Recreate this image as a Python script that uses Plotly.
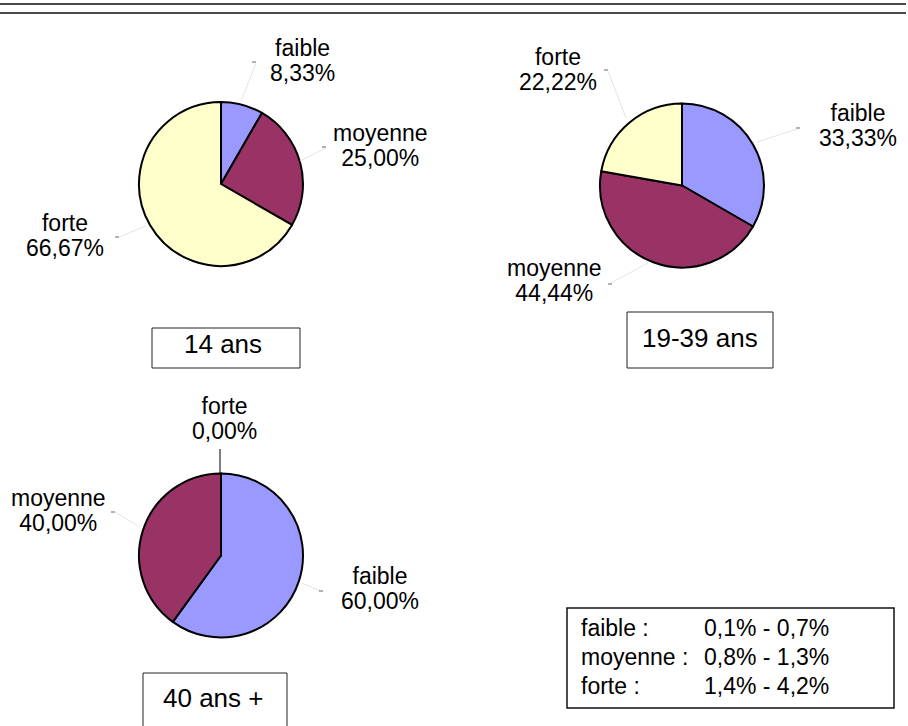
import plotly.graph_objects as go

W, H = 908, 726

# ---------------- data ----------------
categories = ["faible", "moyenne", "forte"]
group_names = ["14 ans", "19-39 ans", "40 ans +"]
pct_14 = [8.33, 25.00, 66.67]
pct_19_39 = [33.33, 44.44, 22.22]
pct_40 = [60.00, 40.00, 0.00]
legend_ranges = ["0,1% - 0,7%", "0,8% - 1,3%", "1,4% - 4,2%"]

colors = ["#9999FF", "#993366", "#FFFFCC"]
FONT = "Liberation Sans, Arial, Helvetica, sans-serif"


def px(x):
    return x / W


def py(y):
    return 1 - y / H


fig = go.Figure()

pies = [
    # center x, center y, radius, values, label layout {cat: (xc, first_baseline, second_baseline)}
    (221, 184, 82, pct_14, {
        "faible": (302, 56.7, 80.7),
        "moyenne": (380, 141.7, 166),
        "forte": (65, 231.7, 255),
    }),
    (682, 185.5, 82, pct_19_39, {
        "forte": (558, 65, 89.3),
        "faible": (858, 121.7, 146),
        "moyenne": (554, 278, 300),
    }),
    (221, 555.5, 82, pct_40, {
        "forte": (224, 415, 439),
        "moyenne": (58, 507, 530),
        "faible": (380, 585, 608.3),
    }),
]

annotations = []
shapes = []


def block(lines, x, mid_baseline, glyph, spacing, anchor="center", align="center"):
    """Multi-line text: glyph size `glyph`, line pitch `spacing` px."""
    base = spacing / 1.3
    txt = "<br>".join(f'<span style="font-size:{glyph}px">{l}</span>' for l in lines)
    annotations.append(dict(
        x=px(x), y=py(mid_baseline - 0.35 * glyph), xref="paper", yref="paper",
        text=txt, showarrow=False, xanchor=anchor, yanchor="middle", align=align,
        font=dict(family=FONT, size=base, color="black"), borderpad=0,
    ))


LABEL_GLYPH = 23
LABEL_PITCH = 24.5

for cx, cy, r, vals, lay in pies:
    fig.add_trace(go.Pie(
        values=vals, labels=categories, sort=False, direction="clockwise",
        rotation=0, textinfo="none", hoverinfo="label+percent",
        marker=dict(colors=colors, line=dict(color="black", width=2)),
        domain=dict(x=[px(cx - r), px(cx + r)], y=[py(cy + r), py(cy - r)]),
        showlegend=False,
    ))
    for cat, v in zip(categories, vals):
        xc, b1, b2 = lay[cat]
        block([cat, f"{v:.2f}%".replace(".", ",")], xc, (b1 + b2) / 2, LABEL_GLYPH, LABEL_PITCH)

# leader ticks (short dashes) and faint connector lines
ticks = [(254, 62), (324, 147), (117, 237), (606, 70), (798, 128), (610, 284), (113, 512), (321, 591)]
leaders = [((256, 63), (241, 101)), ((326, 148), (300, 161)), ((119, 237), (146, 226)),
           ((608, 71), (626, 118)), ((797, 129), (757, 142)), ((611, 283), (648, 263)),
           ((115, 512), (140, 527)), ((320, 591), (302, 583))]
for (x0, y0), (x1, y1) in leaders:
    shapes.append(dict(type="line", xref="paper", yref="paper", x0=px(x0), y0=py(y0),
                       x1=px(x1), y1=py(y1), line=dict(color="#e4e4e4", width=1)))
for tx, ty in ticks:
    shapes.append(dict(type="line", xref="paper", yref="paper", x0=px(tx - 2), y0=py(ty),
                       x1=px(tx + 2), y1=py(ty), line=dict(color="#666666", width=1)))
# leader for the 0,00% slice
shapes.append(dict(type="line", xref="paper", yref="paper", x0=px(220), y0=py(449),
                   x1=px(220), y1=py(474), line=dict(color="black", width=1)))

# top double rule
for yy in (4, 13):
    shapes.append(dict(type="line", xref="paper", yref="paper", x0=0, y0=py(yy),
                       x1=px(906), y1=py(yy), line=dict(color="#4a4a4a", width=2)))

# group boxes
boxes = [((152, 328, 300, 368), (222.5, 353)),
         ((627, 312, 773, 368), (700, 346.7)),
         ((143, 673, 287, 740), (212.5, 706.7))]
for name, ((x0, y0, x1, y1), (tx, tb)) in zip(group_names, boxes):
    shapes.append(dict(type="rect", xref="paper", yref="paper", x0=px(x0), y0=py(y0),
                       x1=px(x1), y1=py(y1), line=dict(color="#222222", width=1),
                       fillcolor="rgba(0,0,0,0)"))
    block([name], tx, tb, 26, 26 * 1.3)

# legend box
shapes.append(dict(type="rect", xref="paper", yref="paper", x0=px(567), y0=py(608),
                   x1=px(894), y1=py(708), line=dict(color="#111111", width=1.5),
                   fillcolor="rgba(0,0,0,0)"))
block([f"{c} :" for c in categories], 580, 665, 23, 29.2, anchor="left", align="left")
block(legend_ranges, 830, 665, 23, 29.2, anchor="right", align="right")

fig.update_layout(
    width=W, height=H, margin=dict(l=0, r=0, t=0, b=0),
    paper_bgcolor="white", plot_bgcolor="white",
    annotations=annotations, shapes=shapes,
)

fig.write_html("out.html", config={"displayModeBar": False},
               post_script="document.body.style.margin='0px';")
